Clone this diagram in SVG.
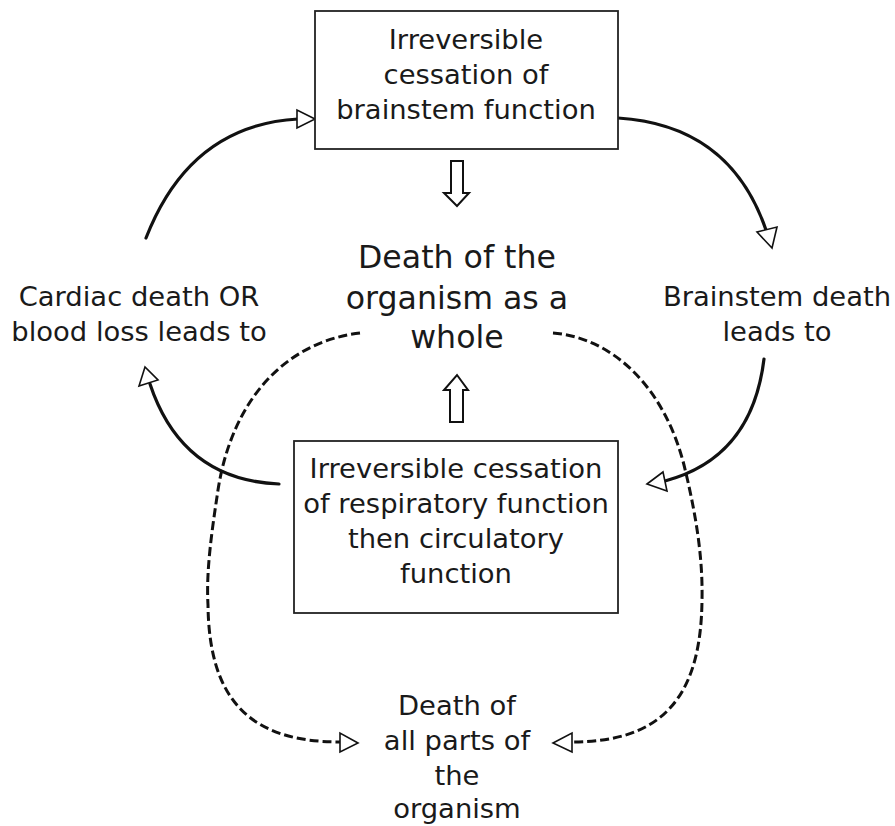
<svg xmlns="http://www.w3.org/2000/svg" width="895" height="826" viewBox="0 0 895 826">
  <style>
    .lbl { font-family: "DejaVu Sans", "Liberation Sans", sans-serif; font-size: 27.4px; fill: #1a1a1a; text-anchor: middle; }
    .big { font-size: 31.6px; }
    .box { fill: #fff; stroke: #222; stroke-width: 1.8; }
    .solid { fill: none; stroke: #111; stroke-width: 3.2; stroke-linecap: round; }
    .dash { fill: none; stroke: #111; stroke-width: 3; stroke-dasharray: 9 4; }
    .head { fill: #fff; stroke: #111; stroke-width: 1.6; stroke-linejoin: miter; }
    .block { fill: #fff; stroke: #111; stroke-width: 2; stroke-linejoin: miter; }
  </style>

  <!-- connectors -->
  <g id="connectors">
    <!-- cycle arrows -->
    <path class="solid" d="M146,238 Q190,125 298,119"/>
    <polygon class="head" points="315,119 297,110 297,128"/>

    <path class="solid" d="M618,118 Q730,125 766,230"/>
    <polygon class="head" points="772,248 757,232 777,227"/>

    <path class="solid" d="M764,359 Q752,458 665,481"/>
    <polygon class="head" points="647,484 663,472 667,491"/>

    <path class="solid" d="M279,484 Q182,480 150,384"/>
    <polygon class="head" points="145,367 139,386 158,380"/>

    <!-- dashed paths to the lower label -->
    <path class="dash" d="M360,333 C285,342 232,400 218,490 C212,530 206,570 208,605 C209,700 250,742 340,742"/>
    <polygon class="head" points="358,743 340,733 340,752"/>

    <path class="dash" d="M553,333 C615,338 665,390 684,465 C695,510 703,555 702,600 C701,700 660,742 572,742"/>
    <polygon class="head" points="553,743 572,733 572,752"/>

    <!-- hollow block arrows -->
    <polygon class="block" points="451,161 463,161 463,193 469,193 457,206 444,193 451,193"/>
    <polygon class="block" points="457,375 468,390 463,390 463,422 450,422 450,390 444,390"/>
  </g>

  <g id="brainstem-box">
    <rect class="box" x="315" y="11" width="303" height="138"/>
    <text class="lbl" x="466" y="49">Irreversible</text>
    <text class="lbl" x="466" y="84">cessation of</text>
    <text class="lbl" x="466" y="119">brainstem function</text>
  </g>

  <g id="organism-death">
    <text class="lbl big" x="457" y="268">Death of the</text>
    <text class="lbl big" x="457" y="309">organism as a</text>
    <text class="lbl big" x="457" y="348">whole</text>
  </g>

  <g id="cardiac-death">
    <text class="lbl" x="139" y="306">Cardiac death OR</text>
    <text class="lbl" x="139" y="341">blood loss leads to</text>
  </g>

  <g id="brainstem-death">
    <text class="lbl" x="777" y="306">Brainstem death</text>
    <text class="lbl" x="777" y="341">leads to</text>
  </g>

  <g id="respiratory-box">
    <rect class="box" x="294" y="441" width="324" height="172"/>
    <text class="lbl" x="456" y="478">Irreversible cessation</text>
    <text class="lbl" x="456" y="513">of respiratory function</text>
    <text class="lbl" x="456" y="548">then circulatory</text>
    <text class="lbl" x="456" y="583">function</text>
  </g>

  <g id="all-parts-death">
    <text class="lbl" x="457" y="715">Death of</text>
    <text class="lbl" x="457" y="750">all parts of</text>
    <text class="lbl" x="457" y="785">the</text>
    <text class="lbl" x="457" y="818">organism</text>
  </g>
</svg>
